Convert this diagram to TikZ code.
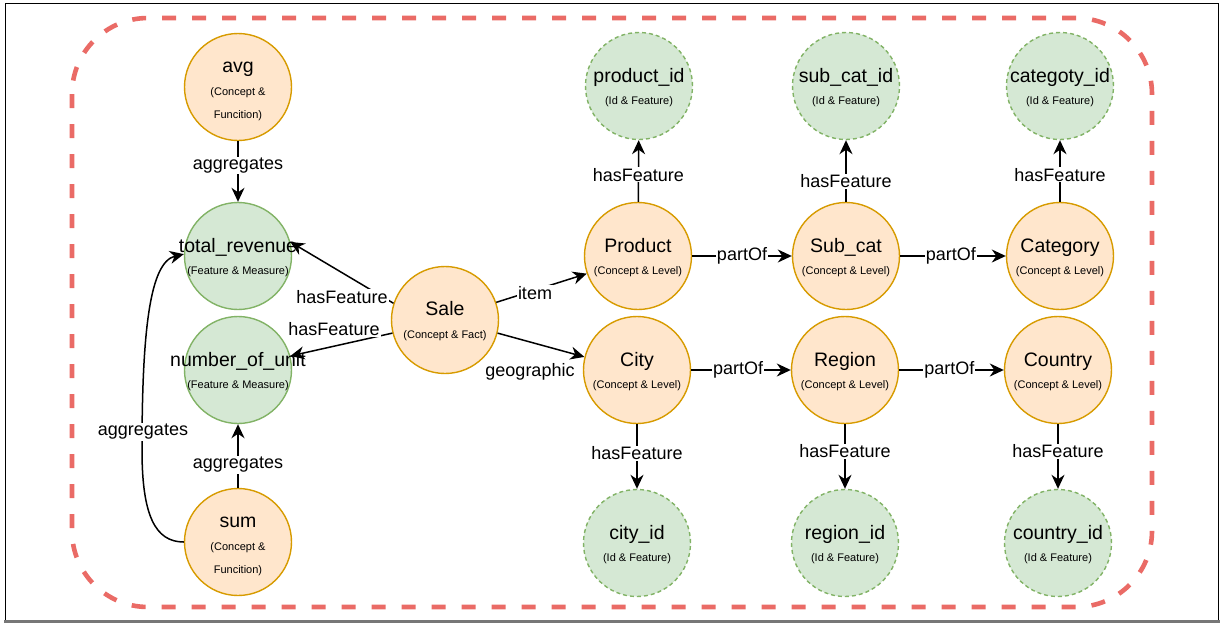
\documentclass[tikz,border=0pt]{standalone}
\usepackage{fontspec}
\setmainfont{Liberation Sans}
\usetikzlibrary{arrows.meta}

\definecolor{conceptfill}{HTML}{FFE6CC}
\definecolor{conceptline}{HTML}{D79B00}
\definecolor{featfill}{HTML}{D5E8D4}
\definecolor{featline}{HTML}{82B366}
\definecolor{groupline}{HTML}{EA6B66}
\definecolor{frameshade}{HTML}{777777}

% Node captions: zero-sized boxes so the circle keeps its fixed size
\newcommand\twoline[3][3.5pt]{%
  \raisebox{#1}[0pt][0pt]{\makebox[0pt]{\fontsize{19.5}{20}\selectfont #2}}%
  \raisebox{-18.5pt}[0pt][0pt]{\makebox[0pt]{\fontsize{11}{12}\selectfont #3}}}
\newcommand\threeline[3]{%
  \raisebox{15pt}[0pt][0pt]{\makebox[0pt]{\fontsize{19.5}{20}\selectfont #1}}%
  \raisebox{-8pt}[0pt][0pt]{\makebox[0pt]{\fontsize{11}{12}\selectfont #2}}%
  \raisebox{-31pt}[0pt][0pt]{\makebox[0pt]{\fontsize{11}{12}\selectfont #3}}}

\tikzset{
  basenode/.style={circle, minimum size=107pt, inner sep=0pt, line width=1.4pt},
  concept/.style={basenode, fill=conceptfill, draw=conceptline},
  feature/.style={basenode, fill=featfill, draw=featline},
  idnode/.style={feature, dash pattern=on 4pt off 3pt},
  edge/.style={line width=1.5pt, -{Stealth[length=14pt, width=13pt, inset=4.5pt]}},
  elabel/.style={fill=white, inner sep=1pt, font=\fontsize{18}{18}\selectfont},
}

\begin{document}
\begin{tikzpicture}[x=1pt, y=-1pt]
\useasboundingbox (0,0) rectangle (1224,624);

% outer frame
\draw[line width=1pt] (5.5,621) -- (5.5,3.5) -- (1218.5,3.5) -- (1218.5,621);
\draw[frameshade, line width=2.6pt] (4,621.7) -- (1220,621.7);

% dashed group boundary
\draw[groupline, line width=4.6pt, dash pattern=on 14pt off 16pt, rounded corners=76pt]
  (72,18) rectangle (1152,607);

% measures and aggregation functions
\node[concept] (avg)   at (238,87)  {\threeline{avg}{(Concept \&}{Funcition)}};
\node[feature] (rev)   at (238,256) {\twoline{total\_revenue}{(Feature \& Measure)}};
\node[feature] (units) at (238,370) {\twoline{number\_of\_unit}{(Feature \& Measure)}};
\node[concept] (sum)   at (238,542) {\threeline{sum}{(Concept \&}{Funcition)}};

% fact
\node[concept] (sale)  at (445,320) {\twoline[4.5pt]{Sale}{(Concept \& Fact)}};

% product hierarchy
\node[concept] (product)  at (638,256)  {\twoline{Product}{(Concept \& Level)}};
\node[concept] (subcat)   at (846,256)  {\twoline{Sub\_cat}{(Concept \& Level)}};
\node[concept] (category) at (1060,256) {\twoline{Category}{(Concept \& Level)}};
\node[idnode]  (productid)  at (639,86)  {\twoline{product\_id}{(Id \& Feature)}};
\node[idnode]  (subcatid)   at (846,86)  {\twoline{sub\_cat\_id}{(Id \& Feature)}};
\node[idnode]  (categoryid) at (1060,86) {\twoline{categoty\_id}{(Id \& Feature)}};

% geographic hierarchy
\node[concept] (city)    at (637,370)  {\twoline{City}{(Concept \& Level)}};
\node[concept] (region)  at (845,370)  {\twoline{Region}{(Concept \& Level)}};
\node[concept] (country) at (1058,370) {\twoline{Country}{(Concept \& Level)}};
\node[idnode]  (cityid)    at (637,543)  {\twoline{city\_id}{(Id \& Feature)}};
\node[idnode]  (regionid)  at (845,543)  {\twoline{region\_id}{(Id \& Feature)}};
\node[idnode]  (countryid) at (1058,543) {\twoline{country\_id}{(Id \& Feature)}};

% aggregation edges
\draw[edge] (avg) -- node[elabel, pos=0.4] {aggregates} (rev);
\draw[edge] (sum) -- node[elabel, pos=0.36] {aggregates} (units);
\draw[edge] (sum.west) .. controls (155,542) and (142,515) .. (142,450)
  .. controls (142,330) and (150,262) .. (rev.178);
\node[elabel] (lagg) at (143,432) {aggregates};

% edges from the fact
\draw[edge] (sale.162) -- (rev.15.5);
\draw[edge] (sale.194) -- (units.15.5);
\draw[edge] (sale.19) -- (product.199);
\draw[edge] (sale.346) -- (city.166);
\node[elabel] (lhf1) at (342,297) {hasFeature};
\node[elabel] (lhf2) at (334,329) {hasFeature};
\node[elabel] (litem) at (535,293) {item};
\node[elabel] (lgeo) at (530,372) {geographic};

% hierarchy edges
\draw[edge] (product) -- node[elabel, pos=0.5] {partOf} (subcat);
\draw[edge] (subcat) -- node[elabel, pos=0.48] {partOf} (category);
\draw[edge] (city) -- node[elabel, pos=0.47] {partOf} (region);
\draw[edge] (region) -- node[elabel, pos=0.48] {partOf} (country);

% feature edges
\draw[edge] (product) -- node[elabel, pos=0.44] {hasFeature} (productid);
\draw[edge] (subcat) -- node[elabel, pos=0.33] {hasFeature} (subcatid);
\draw[edge] (category) -- node[elabel, pos=0.44] {hasFeature} (categoryid);
\draw[edge] (city) -- node[elabel, pos=0.45] {hasFeature} (cityid);
\draw[edge] (region) -- node[elabel, pos=0.42] {hasFeature} (regionid);
\draw[edge] (country) -- node[elabel, pos=0.42] {hasFeature} (countryid);
\end{tikzpicture}
\end{document}
